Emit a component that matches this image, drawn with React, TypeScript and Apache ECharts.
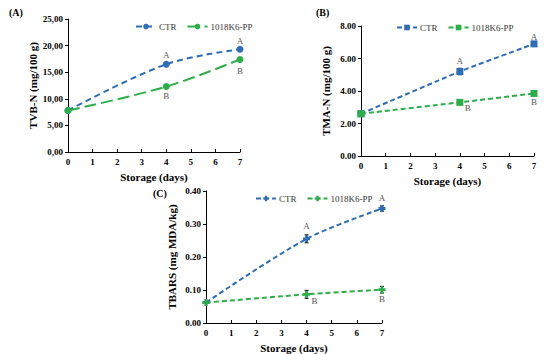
import React, { useEffect, useRef } from "react";
import * as echarts from "echarts";

const days = [0, 4, 7];
const ctrA = [7.8, 16.5, 19.3];
const ppA = [7.8, 12.3, 17.4];
const ctrB = [2.6, 5.2, 6.9];
const ppB = [2.6, 3.3, 3.85];
const ctrC = [0.062, 0.255, 0.347];
const ppC = [0.062, 0.087, 0.101];
const ctrErrB = [0.05, 0.2, 0.08];
const ppErrB = [0.05, 0.1, 0.05];
const ctrErrC = [0.003, 0.012, 0.008];
const ppErrC = [0.003, 0.012, 0.01];
const ctrLetters = ["", "A", "A"];
const ppLetters = ["", "B", "B"];
const seriesNames = ["CTR", "1018K6-PP"];

const BLUE = "#2E6DB8";
const GREEN = "#2BAE48";
const FONT = "'Liberation Serif', 'Times New Roman', serif";
const PLUS = "path://M3,0 H7 V3 H10 V7 H7 V10 H3 V7 H0 V3 H3 Z";

function pts(vals: number[], letters: string[], pos: string, offs: number[][]) {
  return vals.map((v, i) => ({
    value: [days[i], v],
    label: {
      show: letters[i] !== "",
      formatter: letters[i],
      position: pos,
      distance: 1,
      offset: offs[i],
      color: "#555",
      fontFamily: FONT,
      fontSize: 9,
    },
  }));
}

function errData(vals: number[], errs: number[]) {
  return vals.map((v, i) => [days[i], v - errs[i], v + errs[i]]);
}

function errSeries(idx: number, data: number[][]) {
  return {
    type: "custom",
    xAxisIndex: idx,
    yAxisIndex: idx,
    z: 1,
    data,
    renderItem: (params: any, api: any) => {
      const x = api.value(0);
      const lo = api.coord([x, api.value(1)]);
      const hi = api.coord([x, api.value(2)]);
      const st = { stroke: "#000", lineWidth: 1 };
      return {
        type: "group",
        children: [
          { type: "line", shape: { x1: lo[0], y1: lo[1], x2: hi[0], y2: hi[1] }, style: st },
          { type: "line", shape: { x1: lo[0] - 2, y1: lo[1], x2: lo[0] + 2, y2: lo[1] }, style: st },
          { type: "line", shape: { x1: hi[0] - 2, y1: hi[1], x2: hi[0] + 2, y2: hi[1] }, style: st },
        ],
      };
    },
  };
}

const axisLabelStyle = { fontFamily: FONT, fontSize: 9, fontWeight: "bold" as const, color: "#000" };
const nameStyle = { fontFamily: FONT, fontSize: 11, fontWeight: "bold" as const, color: "#000" };

function xAxis(idx: number) {
  return {
    type: "value",
    gridIndex: idx,
    min: 0,
    max: 7,
    interval: 1,
    name: "Storage (days)",
    nameLocation: "middle",
    nameGap: 19,
    nameTextStyle: nameStyle,
    axisLine: { lineStyle: { color: "#000", width: 1 } },
    axisTick: { inside: true, length: 3, lineStyle: { color: "#000" } },
    axisLabel: { ...axisLabelStyle, margin: 5 },
    splitLine: { show: false },
  };
}

function yAxis(idx: number, max: number, interval: number, name: string, gap: number, comma: boolean) {
  return {
    type: "value",
    gridIndex: idx,
    min: 0,
    max,
    interval,
    name,
    nameLocation: "middle",
    nameGap: gap,
    nameTextStyle: nameStyle,
    axisLine: { show: true, lineStyle: { color: "#000", width: 1 } },
    axisTick: { show: true, length: 3, lineStyle: { color: "#000" } },
    axisLabel: {
      ...axisLabelStyle,
      margin: 5,
      formatter: (v: number) => (comma ? v.toFixed(2).replace(".", ",") : v.toFixed(2)),
    },
    splitLine: { show: false },
  };
}

function lineSeries(
  name: string,
  idx: number,
  data: any[],
  color: string,
  symbol: string,
  dash: number[],
  smooth: number
) {
  return {
    type: "line",
    name,
    xAxisIndex: idx,
    yAxisIndex: idx,
    data,
    smooth,
    symbol,
    symbolSize: 7,
    itemStyle: { color },
    lineStyle: { color, width: 2, type: dash },
    z: 3,
  };
}

export default function App() {
  const ref = useRef<HTMLDivElement>(null);
  useEffect(() => {
    if (!ref.current) return;
    const chart = echarts.init(ref.current, undefined, { renderer: "svg" });
    const legendCommon = {
      orient: "horizontal",
      itemWidth: 20,
      itemHeight: 7,
      itemGap: 10,
      textStyle: { fontFamily: FONT, fontSize: 9, color: "#333", padding: [0, 0, 0, -2] },
      formatter: (n: string) => n.split("|")[0],
      selectedMode: false,
    };
    chart.setOption({
      animation: false,
      backgroundColor: "#fff",
      grid: [
        { left: 68, top: 19, width: 172, height: 133 },
        { left: 361, top: 26, width: 173, height: 130 },
        { left: 206, top: 191, width: 176, height: 132 },
      ],
      xAxis: [xAxis(0), xAxis(1), xAxis(2)],
      yAxis: [
        yAxis(0, 25, 5, "TVB-N (mg/100 g)", 30, true),
        yAxis(1, 8, 2, "TMA-N (mg/100 g)", 30, false),
        yAxis(2, 0.4, 0.1, "TBARS (mg MDA/kg)", 29, false),
      ],
      legend: [
        { ...legendCommon, left: 130, top: 17, data: [seriesNames[0] + "|A", seriesNames[1] + "|A"] },
        { ...legendCommon, left: 391, top: 18, data: [seriesNames[0] + "|B", seriesNames[1] + "|B"] },
        { ...legendCommon, left: 250, top: 189, data: [seriesNames[0] + "|C", seriesNames[1] + "|C"] },
      ],
      graphic: [
        { type: "text", left: 9, top: 7, style: { text: "(A)", fontFamily: FONT, fontSize: 10, fontWeight: "bold", fill: "#000" } },
        { type: "text", left: 316, top: 7, style: { text: "(B)", fontFamily: FONT, fontSize: 10, fontWeight: "bold", fill: "#000" } },
        { type: "text", left: 153, top: 188, style: { text: "(C)", fontFamily: FONT, fontSize: 10, fontWeight: "bold", fill: "#000" } },
      ],
      series: [
        lineSeries(seriesNames[0] + "|A", 0, pts(ctrA, ctrLetters, "top", [[0, 0], [0, 0], [0, 1]]), BLUE, "circle", [6, 4], 0.35),
        lineSeries(seriesNames[1] + "|A", 0, pts(ppA, ppLetters, "bottom", [[0, 0], [0, 0], [0, 3]]), GREEN, "circle", [12, 5], 0.35),
        lineSeries(seriesNames[0] + "|B", 1, pts(ctrB, ctrLetters, "top", [[0, 0], [0, -2], [0, 2]]), BLUE, "rect", [5, 3], 0.15),
        lineSeries(seriesNames[1] + "|B", 1, pts(ppB, ppLetters, "bottom", [[0, 0], [8, -3], [0, 0]]), GREEN, "rect", [5, 3], 0.15),
        errSeries(1, errData(ctrB, ctrErrB)),
        errSeries(1, errData(ppB, ppErrB)),
        lineSeries(seriesNames[0] + "|C", 2, pts(ctrC, ctrLetters, "top", [[0, 0], [0, -4], [0, -1]]), BLUE, PLUS, [5, 3], 0.3),
        lineSeries(seriesNames[1] + "|C", 2, pts(ppC, ppLetters, "bottom", [[0, 0], [8, -2], [0, 0]]), GREEN, PLUS, [5, 3], 0.15),
        errSeries(2, errData(ctrC, ctrErrC)),
        errSeries(2, errData(ppC, ppErrC)),
      ],
    });
    return () => chart.dispose();
  }, []);
  return <div ref={ref} style={{ width: 550, height: 354, marginLeft: -8, marginTop: -8 }} />;
}
